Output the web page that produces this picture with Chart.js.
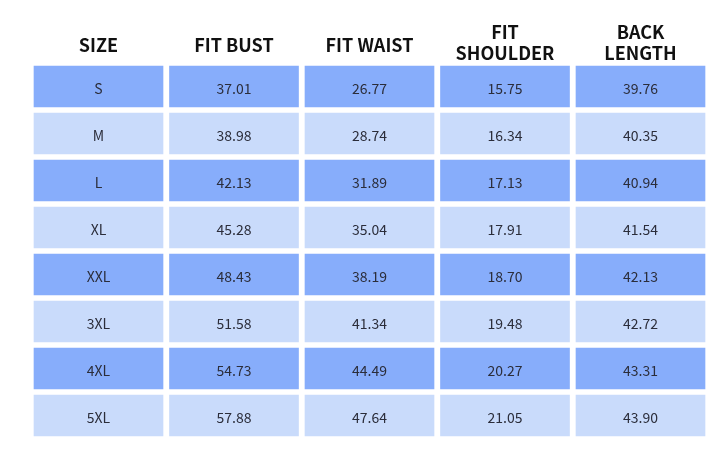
<!DOCTYPE html>
<html>
<head>
<meta charset="utf-8">
<script src="https://cdn.jsdelivr.net/npm/chart.js@4"></script>
<style>
  html, body { margin: 0; padding: 0; background: #fff; }
  #wrap { width: 726px; height: 454px; }
</style>
</head>
<body>
<div id="wrap"><canvas id="c"></canvas></div>
<script>
const sizes      = ['S', 'M', 'L', 'XL', 'XXL', '3XL', '4XL', '5XL'];
const headers    = [['SIZE'], ['FIT BUST'], ['FIT WAIST'], ['FIT', 'SHOULDER'], ['BACK', 'LENGTH']];
const fitBust    = [37.01, 38.98, 42.13, 45.28, 48.43, 51.58, 54.73, 57.88];
const fitWaist   = [26.77, 28.74, 31.89, 35.04, 38.19, 41.34, 44.49, 47.64];
const fitShoulder= [15.75, 16.34, 17.13, 17.91, 18.70, 19.48, 20.27, 21.05];
const backLength = [39.76, 40.35, 40.94, 41.54, 42.13, 42.72, 43.31, 43.90];

const columns = [
    sizes,
    fitBust.map(v => v.toFixed(2)),
    fitWaist.map(v => v.toFixed(2)),
    fitShoulder.map(v => v.toFixed(2)),
    backLength.map(v => v.toFixed(2)),
];

const DARK  = '#87adfb';
const LIGHT = '#c9dbfb';
const FONT  = '"Noto Sans CJK SC", "Noto Sans", sans-serif';

// each column is one dataset of floating horizontal bars spanning [c, c+1]
const datasets = columns.map((col, c) => ({
    data: col.map(() => [c, c + 1]),
    texts: col,
    backgroundColor: col.map((_, r) => r % 2 === 0 ? DARK : LIGHT),
    borderColor: '#ffffff',
    borderWidth: { left: 3.25, right: 3.25, top: 3, bottom: 3 },
    borderSkipped: false,
    grouped: false,
    barPercentage: 1,
    categoryPercentage: 1,
}));

const cellText = {
    id: 'cellText',
    afterDatasetsDraw(chart) {
        const { ctx, scales } = chart;
        ctx.save();
        ctx.textAlign = 'center';
        ctx.textBaseline = 'middle';

        ctx.fillStyle = '#2b2d3a';
        ctx.font = `400 14px ${FONT}`;
        chart.data.datasets.forEach((ds, i) => {
            chart.getDatasetMeta(i).data.forEach((bar, j) => {
                const p = bar.getCenterPoint();
                ctx.fillText(ds.texts[j], p.x, p.y + 2);
            });
        });

        // column headers above the cells
        ctx.fillStyle = '#111111';
        ctx.font = `700 18px ${FONT}`;
        headers.forEach((lines, c) => {
            const x = scales.x.getPixelForValue(c + 0.5);
            if (lines.length === 1) {
                ctx.fillText(lines[0], x, 45);
            } else {
                ctx.fillText(lines[0], x, 32);
                ctx.fillText(lines[1], x, 53);
            }
        });
        ctx.restore();
    },
};

new Chart(document.getElementById('c'), {
    type: 'bar',
    data: { labels: sizes, datasets },
    options: {
        indexAxis: 'y',
        responsive: true,
        maintainAspectRatio: false,
        animation: false,
        layout: { padding: { left: 30.75, right: 17.75, top: 63, bottom: 15 } },
        plugins: {
            legend: { display: false },
            tooltip: { enabled: false },
        },
        scales: {
            x: { type: 'linear', min: 0, max: 5, display: false },
            y: { type: 'category', display: false },
        },
    },
    plugins: [cellText],
});
</script>
</body>
</html>
